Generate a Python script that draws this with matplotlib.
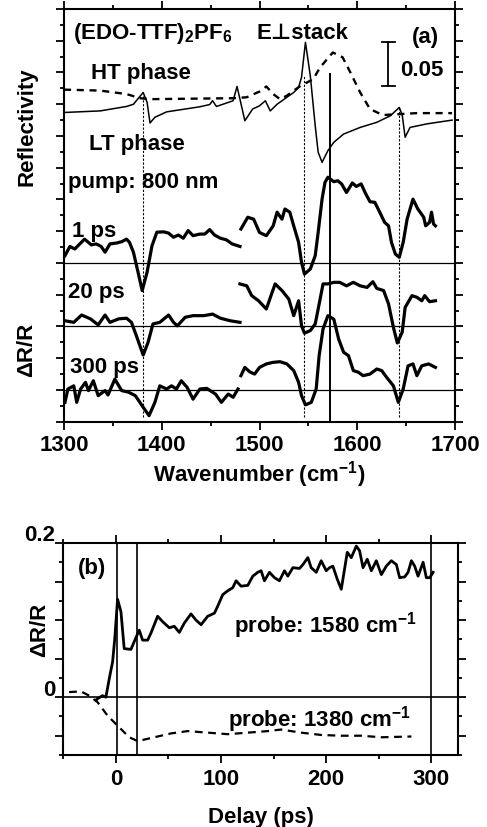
import numpy as np
import matplotlib
matplotlib.use('Agg')
import matplotlib.pyplot as plt

plt.rcParams['font.family'] = ['Liberation Sans', 'DejaVu Sans']
plt.rcParams['font.weight'] = 'bold'
plt.rcParams['mathtext.fontset'] = 'custom'
plt.rcParams['mathtext.rm'] = 'Liberation Sans:bold'
plt.rcParams['mathtext.it'] = 'Liberation Sans:bold'
plt.rcParams['mathtext.bf'] = 'Liberation Sans:bold'
plt.rcParams['mathtext.default'] = 'rm'

FS = 16

# ---- panel (a): steady-state reflectivity (offset units, 0.05 = 1.41) ----
ht_wn = [1300, 1337, 1364, 1378, 1388, 1473, 1487, 1500, 1507, 1514, 1521, 1528,
         1541, 1555, 1562, 1575, 1585, 1593, 1603, 1613, 1626, 1644, 1661, 1697]
ht_r = [10.46, 10.43, 10.32, 10.19, 10.16, 10.19, 10.22, 10.40, 10.56, 10.32, 10.16, 10.27,
        10.56, 10.79, 11.16, 11.63, 11.48, 11.00, 10.37, 9.85, 9.66, 9.69, 9.72, 9.72]

lt_wn = [1300, 1337, 1364, 1371, 1374, 1381, 1385, 1388, 1393, 1405, 1439, 1449, 1452, 1456,
         1473, 1477, 1480, 1485, 1493, 1500, 1506, 1511, 1518, 1528, 1535, 1540, 1543, 1547,
         1552, 1557, 1560, 1564, 1570, 1576, 1586, 1603, 1620, 1634, 1643, 1646, 1649, 1654,
         1671, 1697]
lt_r = [9.74, 9.79, 9.93, 10.00, 10.11, 10.37, 10.06, 9.41, 9.59, 9.76, 9.92, 9.99, 10.11, 9.93,
        10.11, 10.56, 10.16, 9.48, 9.85, 9.95, 10.11, 9.79, 10.00, 10.22, 10.37, 10.53, 10.85, 11.95,
        10.89, 9.32, 8.49, 8.17, 8.54, 8.80, 9.06, 9.27, 9.43, 9.64, 9.90, 9.66, 8.96, 9.27,
        9.38, 9.50]

# ---- panel (a): transient spectra, each block is (wavenumber, value) ----
ps1_lo_wn = [1301, 1306, 1311, 1321, 1328, 1333, 1338, 1342, 1347, 1354, 1359, 1364, 1367, 1371,
             1375, 1380, 1385, 1390, 1395, 1402, 1407, 1412, 1417, 1422, 1427, 1432, 1439, 1444,
             1449, 1454, 1460, 1466, 1472, 1480]
ps1_lo = [5.23, 5.52, 5.44, 5.75, 5.57, 5.60, 5.52, 5.34, 5.60, 5.63, 5.67, 5.75, 5.65, 5.34,
          4.81, 4.13, 4.71, 5.54, 5.97, 5.98, 5.94, 5.81, 5.88, 5.78, 6.02, 5.86, 5.91, 5.91,
          6.05, 5.88, 5.78, 5.73, 5.60, 5.52]
ps1_hi_wn = [1481, 1488, 1494, 1500, 1507, 1514, 1518, 1523, 1526, 1531, 1535, 1540, 1543, 1546,
             1552, 1557, 1560, 1564, 1567, 1570, 1576, 1580, 1584, 1589, 1595, 1599, 1604, 1608,
             1613, 1618, 1623, 1628, 1632, 1635, 1639, 1643, 1647, 1651, 1657, 1662, 1668, 1670,
             1674, 1676, 1678, 1680]
ps1_hi = [6.07, 6.44, 6.38, 5.96, 5.86, 6.17, 6.60, 6.38, 6.70, 6.60, 6.17, 5.65, 5.02, 4.65,
          4.81, 5.23, 5.96, 7.01, 7.54, 7.70, 7.56, 7.59, 7.49, 7.22, 7.52, 7.41, 7.49, 7.22,
          6.93, 6.91, 6.60, 6.28, 6.17, 5.65, 5.28, 5.18, 5.65, 6.38, 7.01, 6.70, 6.44, 6.17,
          6.28, 6.60, 6.23, 6.17]

ps20_lo_wn = [1301, 1310, 1318, 1327, 1335, 1342, 1347, 1356, 1364, 1369, 1374, 1381, 1386, 1391,
              1398, 1407, 1412, 1416, 1424, 1432, 1443, 1452, 1460, 1470, 1480]
ps20_lo = [3.18, 3.13, 3.36, 3.24, 3.05, 3.36, 3.13, 3.24, 3.26, 3.13, 2.71, 2.10, 2.50, 3.08,
           3.13, 3.36, 3.13, 3.02, 3.29, 3.34, 3.34, 3.39, 3.26, 3.18, 3.13]
ps20_hi_wn = [1480, 1487, 1492, 1499, 1507, 1513, 1516, 1523, 1530, 1535, 1540, 1543, 1546, 1552,
              1557, 1562, 1565, 1570, 1576, 1582, 1589, 1596, 1603, 1610, 1616, 1620, 1627, 1632,
              1637, 1641, 1646, 1649, 1656, 1661, 1666, 1669, 1674, 1680]
ps20_hi = [4.34, 4.28, 3.97, 3.81, 3.55, 4.08, 4.34, 4.13, 3.86, 3.34, 3.81, 3.02, 2.79, 2.87,
           3.08, 3.86, 4.34, 4.34, 4.39, 4.39, 4.28, 4.39, 4.28, 4.23, 4.41, 4.20, 4.13, 3.71,
           2.97, 2.48, 2.82, 3.60, 3.97, 3.92, 3.81, 3.97, 3.78, 3.81]

ps300_lo_wn = [1301, 1304, 1310, 1313, 1317, 1322, 1325, 1330, 1335, 1342, 1345, 1352, 1359, 1366,
               1373, 1380, 1387, 1393, 1398, 1405, 1410, 1415, 1420, 1426, 1432, 1439, 1446, 1455,
               1461, 1468, 1473, 1478]
ps300_lo = [0.61, 1.03, 1.13, 0.61, 1.03, 1.24, 0.98, 1.29, 0.82, 0.98, 0.84, 1.34, 0.98, 0.93,
            0.82, 0.50, 0.19, 0.61, 1.13, 1.03, 1.13, 1.03, 1.29, 1.08, 0.71, 1.03, 1.05, 0.87,
            0.61, 0.87, 0.77, 1.03]
ps300_hi_wn = [1481, 1485, 1490, 1495, 1500, 1507, 1514, 1521, 1528, 1535, 1540, 1543, 1547, 1553,
               1558, 1561, 1565, 1570, 1576, 1581, 1586, 1591, 1596, 1601, 1606, 1613, 1620, 1625,
               1630, 1637, 1642, 1647, 1652, 1657, 1661, 1666, 1673, 1680]
ps300_hi = [1.45, 1.71, 1.57, 1.50, 1.71, 1.82, 1.87, 1.89, 1.82, 1.61, 1.24, 0.82, 0.53, 0.61,
            1.03, 2.08, 2.92, 3.34, 3.23, 2.60, 2.19, 2.08, 1.61, 1.56, 1.45, 1.50, 1.66, 1.61,
            1.40, 1.13, 0.61, 1.03, 1.76, 1.82, 1.45, 1.76, 1.82, 1.71]

baselines = [5, 3, 1]
delay_labels = ['1 ps', '20 ps', '300 ps']
label_y = [5.86, 3.92, 1.56]
label_x = [1308, 1304, 1306]

# dotted guides: (wavenumber, top)
guide_wn = [1381, 1545.5, 1642.7]
guide_top = [10.27, 10.9, 9.91]
probe_wn = 1572

# ---- panel (b): kinetics ----
t_1580 = [-19, -17.4, -12.7, -9.5, -6.3, -3.1, -1, 1.6, 4.8, 7.9, 14.3, 19, 22.2, 25.4, 30.2,
          33.3, 39.7, 44.4, 50.8, 55.5, 60.3, 65, 71.4, 76.2, 81, 87.3, 93.7, 96.8, 101.6, 106.3,
          111.1, 114.3, 119, 125.4, 130.2, 134.9, 138.1, 141.2, 146, 150.8, 155.5, 160.3, 163.5,
          168.3, 174.6, 177.8, 182.5, 185.7, 190.5, 195.2, 200, 203.2, 206.3, 210.5, 214.3,
          217.4, 220, 223.8, 228.6, 231.7, 235, 239, 242.9, 247.6, 252.4, 257.1, 261.9, 266.7,
          269.8, 274.6, 277.8, 281, 284.1, 287.3, 292.1, 295.2, 298.4, 301.6]
dr_1580 = [-0.004, -0.002, 0.002, 0.0, 0.024, 0.046, 0.077, 0.127, 0.111, 0.063, 0.062, 0.077,
           0.087, 0.074, 0.074, 0.083, 0.105, 0.098, 0.090, 0.092, 0.084, 0.096, 0.108, 0.100,
           0.094, 0.105, 0.109, 0.118, 0.133, 0.138, 0.142, 0.151, 0.144, 0.145, 0.157, 0.162,
           0.164, 0.151, 0.162, 0.155, 0.151, 0.164, 0.157, 0.168, 0.167, 0.172, 0.181, 0.168,
           0.162, 0.177, 0.164, 0.168, 0.170, 0.153, 0.140, 0.166, 0.188, 0.181, 0.196, 0.190,
           0.168, 0.179, 0.164, 0.177, 0.159, 0.170, 0.177, 0.172, 0.155, 0.156, 0.162, 0.177,
           0.170, 0.157, 0.175, 0.155, 0.155, 0.162]
t_1380 = [-44.5, -33.3, -25.4, -17.4, -7.9, 3.1, 12.7, 20.7, 36.5, 52.4, 68.3, 87.3, 106.3,
          125.4, 144.4, 157, 176.2, 195.2, 214.3, 233.3, 252.4, 281]
dr_1380 = [0.0066, 0.0075, 0.002, -0.0065, -0.024, -0.039, -0.052, -0.057, -0.052, -0.047,
           -0.044, -0.046, -0.048, -0.046, -0.044, -0.042, -0.046, -0.049, -0.050, -0.050,
           -0.052, -0.051]
delays = [1, 20, 300]
ylab_vals = [0.2, 0]
ylab_text = ['0.2', '0']

fig = plt.figure(figsize=(4.87, 8.28), dpi=100)
ax1 = fig.add_axes([64 / 487, 1 - 422.7 / 828, 391 / 487, 412.7 / 828])
ax2 = fig.add_axes([63.3 / 487, 1 - 756 / 828, 394.4 / 487, 212 / 828])

for ax in (ax1, ax2):
    for s in ax.spines.values():
        s.set_linewidth(1.5)
    ax.tick_params(which='both', direction='out', top=True, right=True, width=1.3)
    ax.tick_params(which='major', length=6)
    ax.tick_params(which='minor', length=3)

# panel (a)
ax1.plot(lt_wn, lt_r, color='black', lw=1.1)
ax1.plot(ht_wn, ht_r, color='black', lw=1.7, dashes=(3, 2.4))
for wn, top in zip(guide_wn, guide_top):
    ax1.plot([wn, wn], [0.15, top], color='black', lw=0.8, dashes=(2, 1.5))
ax1.plot([probe_wn, probe_wn], [0, 10.95], color='black', lw=1.4)
for b in baselines:
    ax1.axhline(b, color='black', lw=0.9)
for xs, ys in [(ps1_lo_wn, ps1_lo), (ps1_hi_wn, ps1_hi), (ps20_lo_wn, ps20_lo),
               (ps20_hi_wn, ps20_hi), (ps300_lo_wn, ps300_lo), (ps300_hi_wn, ps300_hi)]:
    ax1.plot(xs, ys, color='black', lw=2.3, solid_joinstyle='round')

# 0.05 scale bar
ax1.plot([1631.8, 1631.8], [10.56, 11.97], color='black', lw=1.3)
ax1.plot([1625, 1638.6], [10.56, 10.56], color='black', lw=1.3)
ax1.plot([1625, 1638.6], [11.97, 11.97], color='black', lw=1.3)
ax1.text(1643.7, 10.92, '0.05', fontsize=FS, fontweight='bold')

ax1.text(1309, 12.1, r'(EDO-TTF)$_2$PF$_6$', fontsize=FS, fontweight='bold')
ax1.text(1497, 12.1, 'E⊥stack', fontsize=FS, fontweight='bold')
ax1.text(1655.7, 11.95, '(a)', fontsize=FS, fontweight='bold')
ax1.text(1328, 10.82, 'HT phase', fontsize=FS, fontweight='bold')
ax1.text(1326, 8.59, 'LT phase', fontsize=FS, fontweight='bold')
ax1.text(1304.4, 7.38, 'pump: 800 nm', fontsize=FS, fontweight='bold')
for lx, ly, lab in zip(label_x, label_y, delay_labels):
    ax1.text(lx, ly, lab, fontsize=FS, fontweight='bold')

ax1.set_xlim(1300, 1700)
ax1.set_ylim(0, 13)
ax1.set_xticks([1300, 1400, 1500, 1600, 1700])
ax1.set_xticks(np.arange(1350, 1700, 100), minor=True)
ax1.set_yticks(np.arange(0, 14, 1))
ax1.set_yticks(np.arange(0.5, 13, 1), minor=True)
ax1.set_yticklabels([])
ax1.tick_params(axis='x', labelsize=FS, pad=3)
ax1.set_xlabel(r'Wavenumber (cm$^{-1}$)', fontsize=FS, fontweight='bold', labelpad=2)

fig.text(26.7 / 487, 1 - 127 / 828, 'Reflectivity', rotation=90, fontsize=FS,
         fontweight='bold', ha='center', va='center')
fig.text(27 / 487, 1 - 350 / 828, 'ΔR/R', rotation=90, fontsize=FS,
         fontweight='bold', ha='center', va='center')

# panel (b)
ax2.plot(t_1580, dr_1580, color='black', lw=2.0)
ax2.plot(t_1380, dr_1380, color='black', lw=1.6, dashes=(3.5, 2.5))
ax2.axhline(0, color='black', lw=1.2)
for d in delays:
    ax2.axvline(d, color='black', lw=1.2)
ax2.text(-36.5, 0.168, '(b)', fontsize=FS, fontweight='bold', va='center')
ax2.text(112.7, 0.085, r'probe: 1580 cm$^{-1}$', fontsize=FS, fontweight='bold')
ax2.text(106.4, -0.037, r'probe: 1380 cm$^{-1}$', fontsize=FS, fontweight='bold')

ax2.set_xlim(-50, 325)
ax2.set_ylim(-0.075, 0.2)
ax2.set_xticks([0, 100, 200, 300])
ax2.set_xticks([-50, 50, 150, 250], minor=True)
ax2.set_yticks(np.arange(-0.05, 0.21, 0.05))
ax2.set_yticks(np.arange(-0.075, 0.2, 0.05), minor=True)
ax2.set_yticklabels([])
ax2.tick_params(labelsize=FS)
# the y labels of (b) sit a little above their ticks
for v, t in zip(ylab_vals, ylab_text):
    ax2.text(-0.021, v + 0.0105, t, transform=ax2.get_yaxis_transform(), ha='right',
             va='center', fontsize=FS, fontweight='bold')
ax2.set_xlabel('Delay (ps)', fontsize=FS, fontweight='bold', labelpad=12)

fig.text(40 / 487, 1 - 630 / 828, 'ΔR/R', rotation=90, fontsize=FS,
         fontweight='bold', ha='center', va='center')

fig.savefig('out.png', dpi=100)
